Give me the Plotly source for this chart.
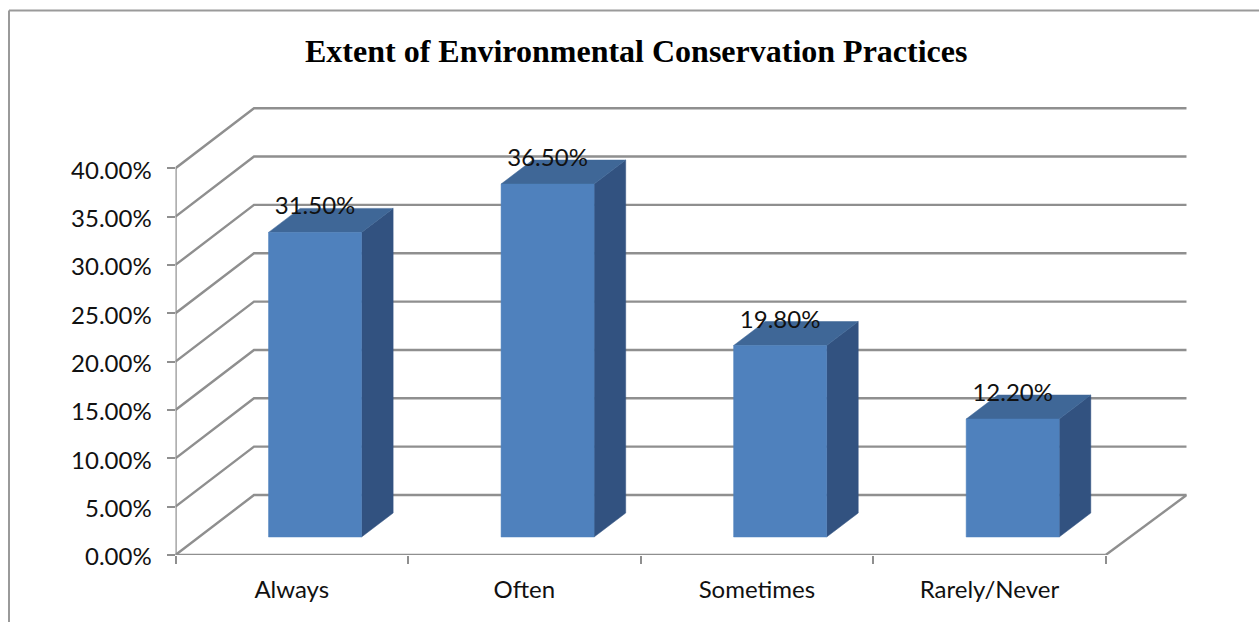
import plotly.graph_objects as go

# Chart data
categories = ["Always", "Often", "Sometimes", "Rarely/Never"]
shares = [31.5, 36.5, 19.8, 12.2]
y_ticks = [0, 5, 10, 15, 20, 25, 30, 35, 40]
title_text = "Extent of Environmental Conservation Practices"

WIDTH, HEIGHT = 1259, 622
LEFT_PX, RIGHT_PX, BOTTOM_PX, TOP_PX = 175.5, 1186.7, 555.0, 107.0
CAT_PX = 232.55          # pixels per category
UNIT_PX = 9.67           # pixels per percentage point

# Oblique projection offsets, in axis units
WALL_DX, WALL_DY = 78.5 / CAT_PX, 60.0 / UNIT_PX
BAR_DX, BAR_DY = 31.6 / CAT_PX, 24.0 / UNIT_PX
FLOOR_DY = 18.0 / UNIT_PX
BAR_START, BAR_W = 0.40, 0.40
LABEL_LIFT = 24.0 / UNIT_PX

GRID = "#8f8f8f"
FRONT, TOP, SIDE = "#4f81bd", "#3f6797", "#325280"
LABEL_FONT = dict(family="Lato, Carlito, sans-serif", size=24, color="#111111")

x_max = (RIGHT_PX - LEFT_PX) / CAT_PX
y_max = (BOTTOM_PX - TOP_PX) / UNIT_PX
n = len(categories)

fig = go.Figure()


def line_trace(xs, ys, width=2.4):
    return go.Scatter(x=xs, y=ys, mode="lines", hoverinfo="skip", showlegend=False,
                      cliponaxis=False, line=dict(color=GRID, width=width))


def face(xs, ys, color):
    return go.Scatter(x=xs, y=ys, mode="lines", fill="toself", fillcolor=color,
                      hoverinfo="skip", showlegend=False, cliponaxis=False,
                      line=dict(color=color, width=0.5))


# Gridlines run up the side wall and across the back wall
grid_x, grid_y = [], []
for t in y_ticks:
    grid_x += [0, WALL_DX, x_max, None]
    grid_y += [t, t + WALL_DY, t + WALL_DY, None]
fig.add_trace(line_trace(grid_x, grid_y))

# Floor edge and the two front axes
fig.add_trace(line_trace([n, x_max], [0, WALL_DY]))
fig.add_trace(line_trace([0, 0], [0, y_ticks[-1]]))
fig.add_trace(line_trace([0, n], [0, 0]))

# Each bar: front, top and right side faces
for i, v in enumerate(shares):
    x0 = i + BAR_START
    x1 = x0 + BAR_W
    y0 = FLOOR_DY
    y1 = FLOOR_DY + v
    fig.add_trace(face([x1, x1 + BAR_DX, x1 + BAR_DX, x1, x1],
                       [y0, y0 + BAR_DY, y1 + BAR_DY, y1, y0], SIDE))
    fig.add_trace(face([x0, x1, x1 + BAR_DX, x0 + BAR_DX, x0],
                       [y1, y1, y1 + BAR_DY, y1 + BAR_DY, y1], TOP))
    fig.add_trace(face([x0, x1, x1, x0, x0], [y0, y0, y1, y1, y0], FRONT))

# Value labels sit above each bar's front face
fig.add_trace(go.Scatter(
    x=[i + BAR_START + BAR_W / 2 for i in range(n)],
    y=[FLOOR_DY + v + LABEL_LIFT for v in shares],
    text=[f"{v:.2f}%" for v in shares],
    mode="text", textposition="middle center", textfont=LABEL_FONT,
    hoverinfo="skip", showlegend=False, cliponaxis=False,
))

# Outer chart frame: left and top edges reach the page limits
frame = dict(type="line", xref="paper", yref="paper", line=dict(color="#9a9a9a", width=2))
fig.update_layout(
    width=WIDTH, height=HEIGHT,
    autosize=False,
    paper_bgcolor="white", plot_bgcolor="white",
    margin=dict(l=0, r=0, t=0, b=0, autoexpand=False),
    showlegend=False,
    shapes=[
        dict(frame, x0=9 / WIDTH, x1=9 / WIDTH, y0=0, y1=1 - 10.5 / HEIGHT),
        dict(frame, x0=9 / WIDTH, x1=1, y0=1 - 10.5 / HEIGHT, y1=1 - 10.5 / HEIGHT),
    ],
    annotations=[dict(
        text=f"<b>{title_text}</b>", xref="paper", yref="paper",
        x=636 / WIDTH, y=1 - 51 / HEIGHT, xanchor="center", yanchor="middle",
        showarrow=False,
        font=dict(family="Liberation Serif, serif", size=32, color="black"),
    )],
    xaxis=dict(
        domain=[LEFT_PX / WIDTH, RIGHT_PX / WIDTH],
        range=[0, x_max],
        tickmode="array",
        tickvals=[i + 0.5 for i in range(n)],
        ticktext=categories,
        ticks="", showgrid=False, zeroline=False, showline=False,
        tickfont=LABEL_FONT,
        ticklabelstandoff=18,
        minor=dict(tickmode="array", tickvals=list(range(n + 1)), ticks="outside",
                   ticklen=8, tickwidth=2, tickcolor=GRID, showgrid=False),
    ),
    yaxis=dict(
        domain=[1 - BOTTOM_PX / HEIGHT, 1 - TOP_PX / HEIGHT],
        range=[0, y_max],
        tickmode="array",
        tickvals=y_ticks,
        ticktext=[f"{t:.2f}%" for t in y_ticks],
        ticks="outside", ticklen=8, tickwidth=2, tickcolor=GRID,
        showgrid=False, zeroline=False, showline=False,
        tickfont=LABEL_FONT,
        ticklabelstandoff=10,
        ticklabelshift=2,
    ),
)

fig.write_html("out.html", config=dict(displayModeBar=False))
